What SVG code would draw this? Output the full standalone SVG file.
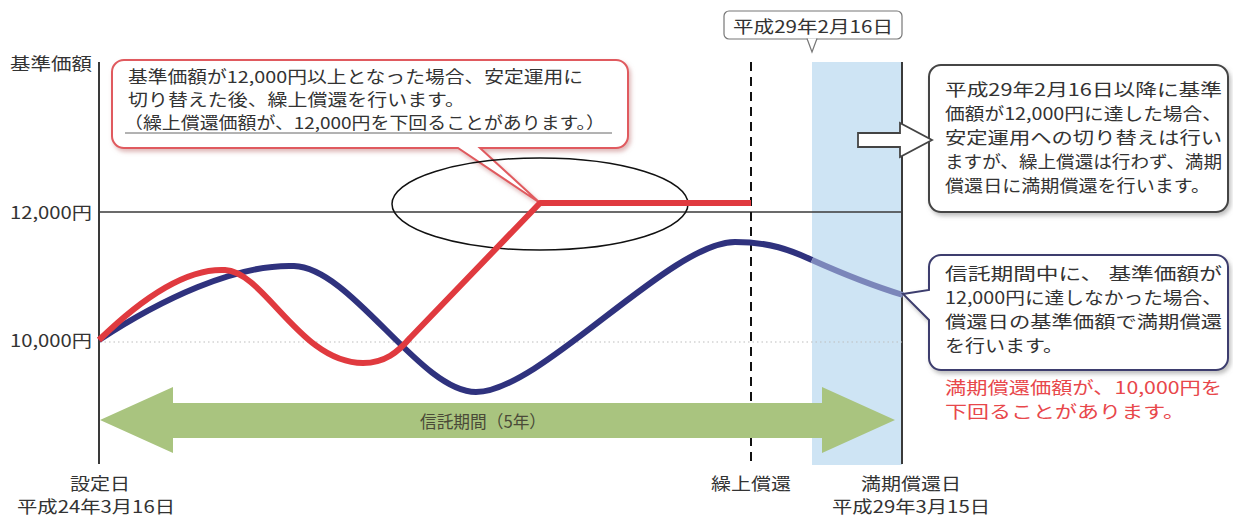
<svg xmlns="http://www.w3.org/2000/svg" width="1233" height="517" viewBox="0 0 1233 517">
<defs>
<style>
text{font-family:"Noto Sans CJK JP","Noto Sans",sans-serif;font-size:17px;fill:#333;dominant-baseline:central}
.ax{stroke:#3a3a3a;stroke-width:2;fill:none}
.red{stroke:#e03a3f;stroke-width:6;fill:none;stroke-linejoin:round;stroke-linecap:butt}
.blue{stroke:#2f327e;stroke-width:6;fill:none}
.bluel{stroke:#7b86ba;stroke-width:6;fill:none}
.co{fill:#fff;stroke-width:2}
.warn{fill:#e8474b}
.ct{font-size:16.5px}
</style>
<filter id="sh" x="-10%" y="-20%" width="120%" height="150%">
<feDropShadow dx="2" dy="3" stdDeviation="2" flood-color="#888" flood-opacity="0.55"/>
</filter>
<filter id="shr" x="-10%" y="-20%" width="120%" height="150%">
<feDropShadow dx="2" dy="3" stdDeviation="2" flood-color="#c98a8a" flood-opacity="0.6"/>
</filter>
</defs>
<rect width="1233" height="517" fill="#fff"/>

<g id="band"><rect x="812" y="62" width="90" height="403" fill="#cee4f4"/></g>

<g id="axes">
<line class="ax" x1="99" y1="62" x2="99" y2="464"/>
<line class="ax" x1="902" y1="62" x2="902" y2="464"/>
<line x1="99" y1="212" x2="902" y2="212" stroke="#3a3a3a" stroke-width="1.3"/>
<line x1="100" y1="342" x2="902" y2="342" stroke="#bdbdbd" stroke-width="1.2" stroke-dasharray="1.5 3"/>
<line x1="751" y1="62" x2="751" y2="464" stroke="#111" stroke-width="2" stroke-dasharray="9 6"/>
</g>

<g id="labels">
<text x="10" y="62" textLength="82" lengthAdjust="spacingAndGlyphs">基準価額</text>
<text x="10" y="211" textLength="82" lengthAdjust="spacingAndGlyphs">12,000円</text>
<text x="10" y="339" textLength="82" lengthAdjust="spacingAndGlyphs">10,000円</text>
<text x="70" y="482" textLength="60" lengthAdjust="spacingAndGlyphs">設定日</text>
<text x="17" y="505" textLength="158" lengthAdjust="spacingAndGlyphs">平成24年3月16日</text>
<text x="711" y="482" textLength="80" lengthAdjust="spacingAndGlyphs">繰上償還</text>
<text x="861" y="482" textLength="100" lengthAdjust="spacingAndGlyphs">満期償還日</text>
<text x="832" y="505" textLength="158" lengthAdjust="spacingAndGlyphs">平成29年3月15日</text>
</g>

<g id="period">
<polygon points="100,420 173,387 173,403 822,403 822,387 895,420 822,453 822,438 173,438 173,453" fill="#a9c47f"/>
<text x="420" y="420" textLength="126" lengthAdjust="spacingAndGlyphs" style="fill:#4a4a38">信託期間（5年）</text>
</g>

<g id="callout-red" filter="url(#shr)">
<path class="co" stroke="#e05a5e" d="M124,60 H616 A12,12 0 0 1 628,72 V136 A12,12 0 0 1 616,148 H480 L540,203 L458,148 H124 A12,12 0 0 1 112,136 V72 A12,12 0 0 1 124,60 Z"/>
</g>
<g id="callout-red-text">
<text class="ct" x="128" y="76" textLength="455" lengthAdjust="spacingAndGlyphs">基準価額が12,000円以上となった場合、安定運用に</text>
<text class="ct" x="128" y="99" textLength="337" lengthAdjust="spacingAndGlyphs">切り替えた後、繰上償還を行います。</text>
<text class="ct" x="124" y="122" textLength="481" lengthAdjust="spacingAndGlyphs">（繰上償還価額が、12,000円を下回ることがあります。）</text>
<line x1="125" y1="133" x2="612" y2="133" stroke="#666" stroke-width="1"/>
</g>

<g id="ellipse"><ellipse cx="540" cy="204" rx="148" ry="46" fill="none" stroke="#111" stroke-width="1.5"/></g>

<g id="connectors">
<path class="blue" d="M99,340 C160,300 235,264 294,266 C352,268 420,392 476,392 C540,392 670,242 735,242 C770,242 790,250 812,260"/>
<path class="bluel" d="M812,260 C850,277 880,288 903,295"/>
<path class="red" d="M99,340 C140,300 185,268 225,270 C265,272 300,363 363,363 C385,363 398,352 410,338 L540,203 L751,203"/>
</g>

<g id="date-label">
<rect x="724" y="11" width="178" height="28" rx="5" fill="#fff" stroke="#777" stroke-width="1.2"/>
<path d="M807,38.5 L812,52 L817,38.5" fill="#fff" stroke="#777" stroke-width="1.2"/>
<text x="733" y="25" textLength="160" lengthAdjust="spacingAndGlyphs">平成29年2月16日</text>
</g>

<g id="callout-top" filter="url(#sh)">
<rect class="co" stroke="#444" x="929" y="65" width="299" height="147" rx="12"/>
</g>
<g id="arrow-top">
<polygon points="858,133 900,133 900,123 932,140 900,157 900,147 858,147" fill="#fff" stroke="#444" stroke-width="1.8" stroke-linejoin="miter"/>
</g>
<g id="callout-top-text">
<text x="945" y="88" textLength="277" lengthAdjust="spacingAndGlyphs">平成29年2月16日以降に基準</text>
<text x="945" y="112" textLength="277" lengthAdjust="spacingAndGlyphs">価額が12,000円に達した場合、</text>
<text x="945" y="136" textLength="277" lengthAdjust="spacingAndGlyphs">安定運用への切り替えは行い</text>
<text x="945" y="160" textLength="277" lengthAdjust="spacingAndGlyphs">ますが、繰上償還は行わず、満期</text>
<text x="945" y="184" textLength="265" lengthAdjust="spacingAndGlyphs">償還日に満期償還を行います。</text>
</g>

<g id="callout-bottom" filter="url(#sh)">
<path class="co" stroke="#3c3e6e" d="M941,255 H1216 A12,12 0 0 1 1228,267 V358 A12,12 0 0 1 1216,370 H941 A12,12 0 0 1 929,358 V320 L903,294 L929,290 V267 A12,12 0 0 1 941,255 Z"/>
</g>
<g id="callout-bottom-text">
<text x="945" y="272" textLength="277" lengthAdjust="spacingAndGlyphs">信託期間中に、 基準価額が</text>
<text x="945" y="296" textLength="277" lengthAdjust="spacingAndGlyphs">12,000円に達しなかった場合、</text>
<text x="945" y="320" textLength="277" lengthAdjust="spacingAndGlyphs">償還日の基準価額で満期償還</text>
<text x="945" y="344" textLength="118" lengthAdjust="spacingAndGlyphs">を行います。</text>
</g>

<g id="warning">
<text class="warn" x="945" y="386" textLength="277" lengthAdjust="spacingAndGlyphs">満期償還価額が、10,000円を</text>
<text class="warn" x="945" y="410" textLength="240" lengthAdjust="spacingAndGlyphs">下回ることがあります。</text>
</g>
</svg>
